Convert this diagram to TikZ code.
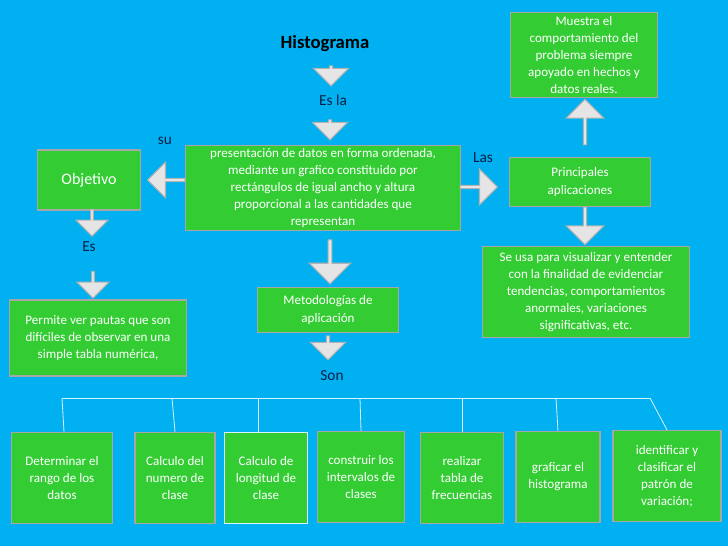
\documentclass[tikz,border=0pt]{standalone}
\usepackage{fontspec}
\setmainfont{Carlito}
\usetikzlibrary{shapes.arrows}
\definecolor{bg}{RGB}{0,176,240}
\definecolor{gr}{RGB}{51,204,51}
\definecolor{tx}{RGB}{10,30,70}
\begin{document}
\begin{tikzpicture}[x=0.75pt,y=-0.75pt,
  box/.style={draw=gray!70,line width=1.2pt,fill=gr,text=white,align=center,font=\fontsize{9.8}{12.8}\selectfont,inner sep=1pt},
  lbl/.style={text=tx,font=\fontsize{11.5}{13}\selectfont},
  fat/.style={single arrow,draw=gray!60,fill=gray!20,line width=0.8pt,single arrow head extend=4pt,inner sep=0pt},
  ln/.style={draw=white!85!bg,line width=0.6pt}]
\fill[bg] (0,0) rectangle (728,546);
\useasboundingbox (0,0) rectangle (728,546);
% boxes
\node[box,minimum width=206pt,minimum height=64pt] (main) at (323,188) {presentación de datos en forma ordenada,\\ mediante un grafico constituido por\\ rectángulos de igual ancho y altura\\ proporcional a las cantidades que\\ representan};
\node[box,minimum width=77pt,minimum height=45pt,font=\fontsize{12}{13}\selectfont] (obj) at (89,180) {Objetivo};
\node[box,minimum width=106pt,minimum height=37pt] (pa) at (580,182) {Principales\\ aplicaciones};
\node[box,minimum width=110pt,minimum height=64pt] (mu) at (584,55) {Muestra el\\ comportamiento del\\ problema siempre\\ apoyado en hechos y\\ datos reales.};
\node[box,minimum width=155pt,minimum height=68pt] (se) at (586,292) {Se usa para visualizar y entender\\ con la finalidad de evidenciar\\ tendencias, comportamientos\\ anormales, variaciones\\ significativas, etc.};
\node[box,minimum width=133pt,minimum height=57pt] (pe) at (98,338) {Permite ver pautas que son\\ difíciles de observar en una\\ simple tabla numérica,};
\node[box,minimum width=106pt,minimum height=34pt] (me) at (328,310) {Metodologías de\\ aplicación};
% labels
\node[text=black,font=\bfseries\fontsize{14}{16}\selectfont] (h) at (325,44) {Histograma};
\node[lbl] (esla) at (333,100) {Es la};
\node[lbl] (su) at (165,141) {su};
\node[lbl] (las) at (483,158) {Las};
\node[lbl] (es) at (89,247) {Es};
\node[lbl] (son) at (332,376) {Son};
% fat arrows
\node[fat,shape border rotate=270,minimum width=26pt,minimum height=15pt] (a1) at (331,75) {};
\node[fat,shape border rotate=270,minimum width=26pt,minimum height=15pt] (a2) at (330,129) {};
\node[fat,shape border rotate=180,minimum width=27pt,minimum height=28pt] (a3) at (167,180) {};
\node[fat,shape border rotate=0,minimum width=27pt,minimum height=28pt] (a4) at (478,187) {};
\node[fat,shape border rotate=270,minimum width=24pt,minimum height=20pt] (a5) at (92,222) {};
\node[fat,shape border rotate=270,minimum width=24pt,minimum height=20pt] (a6) at (93,284) {};
\node[fat,shape border rotate=270,minimum width=31pt,minimum height=33pt] (a7) at (330,261) {};
\node[fat,shape border rotate=270,minimum width=26pt,minimum height=18pt] (a8) at (328,347) {};
\node[fat,shape border rotate=90,minimum width=28pt,minimum height=34pt] (a9) at (585,123) {};
\node[fat,shape border rotate=270,minimum width=28pt,minimum height=28pt] (a10) at (585,225) {};
% bottom boxes
\tikzset{bb/.style={box,minimum height=68pt}}
\node[bb,minimum width=76pt] (b1) at (62,478) {Determinar el\\ rango de los\\ datos};
\node[bb,minimum width=60pt] (b2) at (175,478) {Calculo del\\ numero de\\ clase};
\node[bb,minimum width=62pt,draw=white!85!cyan] (b3) at (266,478) {Calculo de\\ longitud de\\ clase};
\node[bb,minimum width=65pt] (b4) at (361,477) {construir los\\ intervalos de\\ clases};
\node[bb,minimum width=62pt] (b5) at (462,478) {realizar\\ tabla de\\ frecuencias};
\node[bb,minimum width=63pt] (b6) at (558,477) {graficar el\\ histograma};
\node[bb,minimum width=81pt] (b7) at (667,476) {identificar y\\ clasificar el\\ patrón de\\ variación;};
% bracket
\coordinate (l) at (62,398); \coordinate (r) at (650,398);
\draw[ln] (l) -- (r);
\draw[ln] (l) -- (b1.north -| 64,0);
\draw[ln] (172,398) -- (b2.north);
\draw[ln] (258,398) -- (258,432);
\draw[ln] (360,398) -- (b4.north);
\draw[ln] (462,398) -- (b5.north);
\draw[ln] (556,398) -- (b6.north);
\draw[ln] (r) -- (b7.north);
\end{tikzpicture}
\end{document}
